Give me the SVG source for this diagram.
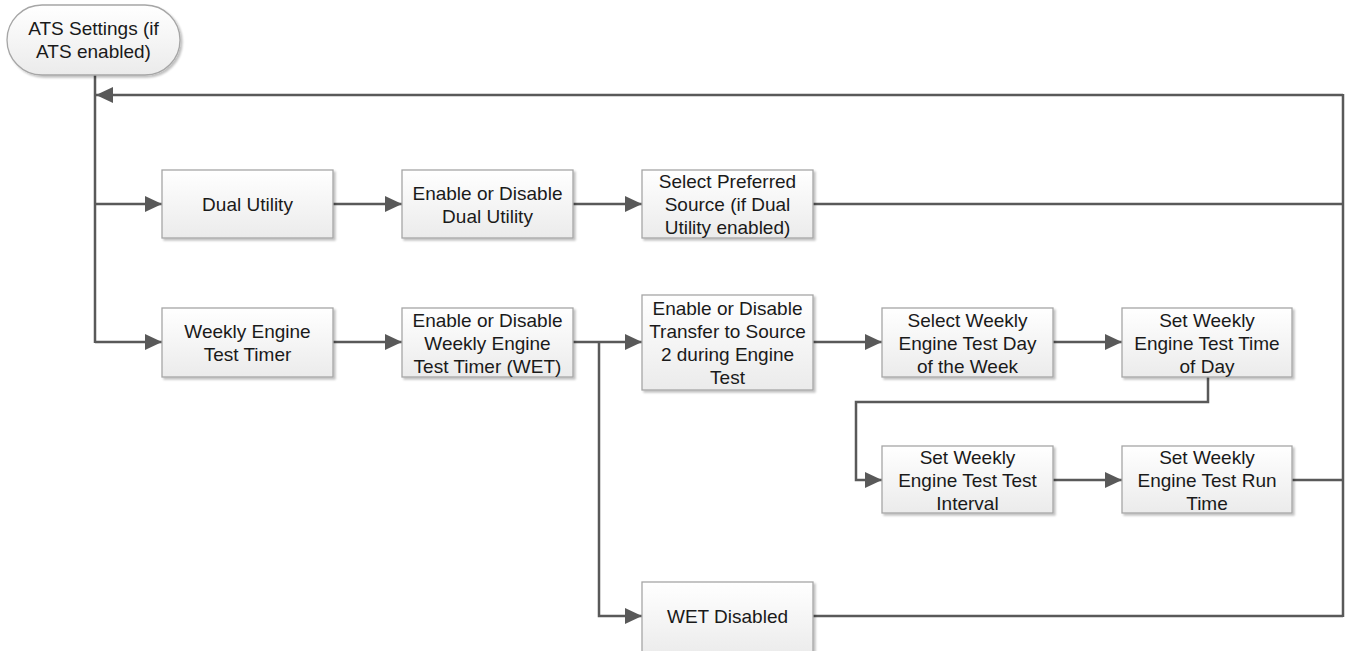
<svg xmlns="http://www.w3.org/2000/svg" width="1345" height="651" viewBox="0 0 1345 651">
<defs>
<linearGradient id="g" x1="0" y1="0" x2="0" y2="1">
<stop offset="0" stop-color="#ffffff"/>
<stop offset="1" stop-color="#ebebeb"/>
</linearGradient>
<marker id="arr" markerUnits="userSpaceOnUse" markerWidth="18" markerHeight="16" refX="17" refY="8" orient="auto">
<path d="M0,0 L17,8 L0,16 z" fill="#595959"/>
</marker>
<filter id="sh" x="-5%" y="-5%" width="115%" height="115%">
<feGaussianBlur in="SourceAlpha" stdDeviation="1.2"/>
<feOffset dx="1.5" dy="1.5" result="b"/>
<feComponentTransfer><feFuncA type="linear" slope="0.25"/></feComponentTransfer>
<feMerge><feMergeNode/><feMergeNode in="SourceGraphic"/></feMerge>
</filter>
</defs>
<style>
.box{fill:url(#g);stroke:#a6a6a6;stroke-width:1.3;filter:url(#sh)}
.t{font-family:"Liberation Sans",Arial,sans-serif;font-size:19px;fill:#1a1a1a;text-anchor:middle}
.c{fill:none;stroke:#595959;stroke-width:2.5}
.a{marker-end:url(#arr)}
</style>
<rect width="1345" height="651" fill="#ffffff"/>
<g id="connectors">
<path class="c a" d="M1343,95 H96"/>
<path class="c" d="M95,75 V343"/>
<path class="c a" d="M95,204 H162"/>
<path class="c a" d="M95,342 H162"/>
<path class="c a" d="M333,204 H402"/>
<path class="c a" d="M573,204 H642"/>
<path class="c" d="M813,204 H1343"/>
<path class="c" d="M1343,94 V617"/>
<path class="c a" d="M333,342 H402"/>
<path class="c a" d="M573,342 H642"/>
<path class="c a" d="M599,342 V616 H642"/>
<path class="c a" d="M813,342 H882"/>
<path class="c a" d="M1053,342 H1122"/>
<path class="c a" d="M1208,377 V402 H856 V480 H882"/>
<path class="c a" d="M1053,480 H1122"/>
<path class="c" d="M1292,480 H1343"/>
<path class="c" d="M813,616 H1343"/>
</g>
<g id="start">
<rect class="box" x="7" y="5" width="173" height="70" rx="35" ry="35"/>
<text class="t" x="93.5" y="35">ATS Settings (if</text>
<text class="t" x="93.5" y="58">ATS enabled)</text>
</g>
<g id="dual-utility">
<rect class="box" x="162" y="170" width="171" height="68"/>
<text class="t" x="247.5" y="211">Dual Utility</text>
</g>
<g id="enable-dual">
<rect class="box" x="402" y="170" width="171" height="68"/>
<text class="t" x="487.5" y="199.5">Enable or Disable</text>
<text class="t" x="487.5" y="222.5">Dual Utility</text>
</g>
<g id="preferred-source">
<rect class="box" x="642" y="170" width="171" height="68"/>
<text class="t" x="727.5" y="188">Select Preferred</text>
<text class="t" x="727.5" y="211">Source (if Dual</text>
<text class="t" x="727.5" y="234">Utility enabled)</text>
</g>
<g id="weekly-timer">
<rect class="box" x="162" y="308" width="171" height="69"/>
<text class="t" x="247.5" y="338">Weekly Engine</text>
<text class="t" x="247.5" y="361">Test Timer</text>
</g>
<g id="enable-wet">
<rect class="box" x="402" y="308" width="171" height="69"/>
<text class="t" x="487.5" y="326.5">Enable or Disable</text>
<text class="t" x="487.5" y="349.5">Weekly Engine</text>
<text class="t" x="487.5" y="372.5">Test Timer (WET)</text>
</g>
<g id="transfer">
<rect class="box" x="642" y="295" width="171" height="95"/>
<text class="t" x="727.5" y="315">Enable or Disable</text>
<text class="t" x="727.5" y="338">Transfer to Source</text>
<text class="t" x="727.5" y="361">2 during Engine</text>
<text class="t" x="727.5" y="384">Test</text>
</g>
<g id="test-day">
<rect class="box" x="882" y="308" width="171" height="69"/>
<text class="t" x="967.5" y="326.5">Select Weekly</text>
<text class="t" x="967.5" y="349.5">Engine Test Day</text>
<text class="t" x="967.5" y="372.5">of the Week</text>
</g>
<g id="time-of-day">
<rect class="box" x="1122" y="308" width="170" height="69"/>
<text class="t" x="1207" y="326.5">Set Weekly</text>
<text class="t" x="1207" y="349.5">Engine Test Time</text>
<text class="t" x="1207" y="372.5">of Day</text>
</g>
<g id="test-interval">
<rect class="box" x="882" y="446" width="171" height="67"/>
<text class="t" x="967.5" y="463.5">Set Weekly</text>
<text class="t" x="967.5" y="486.5">Engine Test Test</text>
<text class="t" x="967.5" y="509.5">Interval</text>
</g>
<g id="run-time">
<rect class="box" x="1122" y="446" width="170" height="67"/>
<text class="t" x="1207" y="463.5">Set Weekly</text>
<text class="t" x="1207" y="486.5">Engine Test Run</text>
<text class="t" x="1207" y="509.5">Time</text>
</g>
<g id="wet-disabled">
<rect class="box" x="642" y="582" width="171" height="75"/>
<text class="t" x="727.5" y="623">WET Disabled</text>
</g>
</svg>
